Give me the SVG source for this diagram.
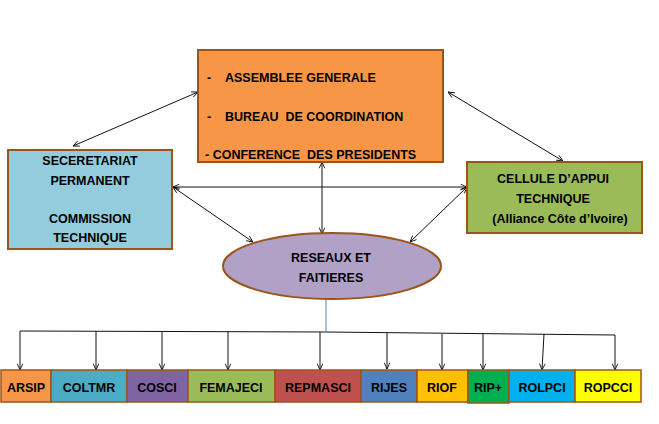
<svg xmlns="http://www.w3.org/2000/svg" width="659" height="424" viewBox="0 0 659 424">
<defs>
<marker id="ah" viewBox="0 0 10 10" refX="10" refY="5" markerWidth="7" markerHeight="7" orient="auto-start-reverse" markerUnits="userSpaceOnUse">
<path d="M1,1 L10,5 L1,9" fill="none" stroke="#000" stroke-width="1.2"/>
</marker>
</defs>
<style>
text{font-family:"Liberation Sans",Arial,sans-serif;font-weight:bold;font-size:12.5px;fill:#000;white-space:pre}
.c{text-anchor:middle}
.box{stroke:#9C5417;stroke-width:2}
.cn{fill:none;stroke:#111;stroke-width:1}
.bx{stroke:#9C5417;stroke-width:1.5}
</style>
<rect width="659" height="424" fill="#fff"/>
<g id="connectors">
<line class="cn" x1="198" y1="92" x2="73" y2="146" marker-start="url(#ah)" marker-end="url(#ah)"/>
<line class="cn" x1="448" y1="92" x2="563" y2="161" marker-start="url(#ah)" marker-end="url(#ah)"/>
<line class="cn" x1="322" y1="162" x2="322" y2="234" marker-start="url(#ah)" marker-end="url(#ah)"/>
<line class="cn" x1="173" y1="187" x2="467" y2="187" marker-start="url(#ah)" marker-end="url(#ah)" stroke="#444"/>
<line class="cn" x1="173" y1="187" x2="253" y2="242" marker-start="url(#ah)" marker-end="url(#ah)"/>
<line class="cn" x1="467" y1="187" x2="410" y2="242" marker-start="url(#ah)" marker-end="url(#ah)"/>
<line x1="326" y1="299" x2="326" y2="331" stroke="#4F81BD" stroke-width="1"/>
<polyline class="cn" points="20,331 326,332 615,335" stroke="#333"/>
<line class="cn" x1="20" y1="331" x2="20" y2="370" marker-end="url(#ah)"/>
<line class="cn" x1="96" y1="331" x2="96" y2="370" marker-end="url(#ah)"/>
<line class="cn" x1="162" y1="332" x2="162" y2="370" marker-end="url(#ah)"/>
<line class="cn" x1="228" y1="332" x2="228" y2="370" marker-end="url(#ah)"/>
<line class="cn" x1="320" y1="332" x2="320" y2="370" marker-end="url(#ah)"/>
<line class="cn" x1="387" y1="333" x2="387" y2="369" marker-end="url(#ah)"/>
<line class="cn" x1="442" y1="334" x2="442" y2="370" marker-end="url(#ah)"/>
<line class="cn" x1="483" y1="334" x2="483" y2="370" marker-end="url(#ah)"/>
<line class="cn" x1="544" y1="334" x2="542" y2="370" marker-end="url(#ah)"/>
<line class="cn" x1="615" y1="335" x2="615" y2="370" marker-end="url(#ah)"/>
</g>
<g id="assemblee">
<rect class="box" x="198" y="50" width="245" height="112" fill="#F79646"/>
<text x="207" y="82">-</text><text x="225" y="82">ASSEMBLEE GENERALE</text>
<text x="207" y="121">-</text><text x="225" y="121">BUREAU  DE COORDINATION</text>
<text x="205" y="159">- CONFERENCE  DES PRESIDENTS</text>
</g>
<g id="secretariat">
<rect class="box" x="8" y="150" width="164" height="99" fill="#93CDDD"/>
<text class="c" x="90" y="165">SECERETARIAT</text>
<text class="c" x="90" y="185">PERMANENT</text>
<text class="c" x="90" y="223">COMMISSION</text>
<text class="c" x="90" y="242">TECHNIQUE</text>
</g>
<g id="cellule">
<rect class="box" x="467" y="162" width="175" height="71" fill="#9BBB59"/>
<text class="c" x="553" y="183">CELLULE D’APPUI</text>
<text class="c" x="553" y="203">TECHNIQUE</text>
<text class="c" x="560" y="223">(Alliance Côte d’Ivoire)</text>
</g>
<g id="reseaux">
<ellipse class="box" cx="332" cy="266" rx="109" ry="33" fill="#B2A1C7"/>
<text class="c" x="331" y="262">RESEAUX ET</text>
<text class="c" x="331" y="282">FAITIERES</text>
</g>
<g id="arsip"><rect class="bx" x="1" y="370" width="50" height="32" fill="#F79646"/><text class="c" x="26" y="392">ARSIP</text></g>
<g id="coltmr"><rect class="bx" x="51" y="370" width="76" height="32" fill="#4BACC6"/><text class="c" x="89" y="392">COLTMR</text></g>
<g id="cosci"><rect class="bx" x="127" y="370" width="61" height="32" fill="#8064A2"/><text class="c" x="157" y="392">COSCI</text></g>
<g id="femajeci"><rect class="bx" x="188" y="370" width="87" height="32" fill="#9BBB59"/><text class="c" x="231" y="392">FEMAJECI</text></g>
<g id="repmasci"><rect class="bx" x="275" y="370" width="86" height="32" fill="#C0504D"/><text class="c" x="318" y="392">REPMASCI</text></g>
<g id="rijes"><rect class="bx" x="361" y="370" width="56" height="32" fill="#4F81BD"/><text class="c" x="389" y="392">RIJES</text></g>
<g id="riof"><rect class="bx" x="417" y="370" width="51" height="32" fill="#FFC000"/><text class="c" x="442" y="392">RIOF</text></g>
<g id="ripplus"><rect class="bx" x="468" y="370" width="41" height="33" fill="#00B050"/><text class="c" x="488" y="392">RIP+</text></g>
<g id="rolpci"><rect class="bx" x="509" y="370" width="66" height="32" fill="#00B0F0"/><text class="c" x="542" y="392">ROLPCI</text></g>
<g id="ropcci"><rect class="bx" x="575" y="370" width="66" height="32" fill="#FFFF00"/><text class="c" x="608" y="392">ROPCCI</text></g>
</svg>
